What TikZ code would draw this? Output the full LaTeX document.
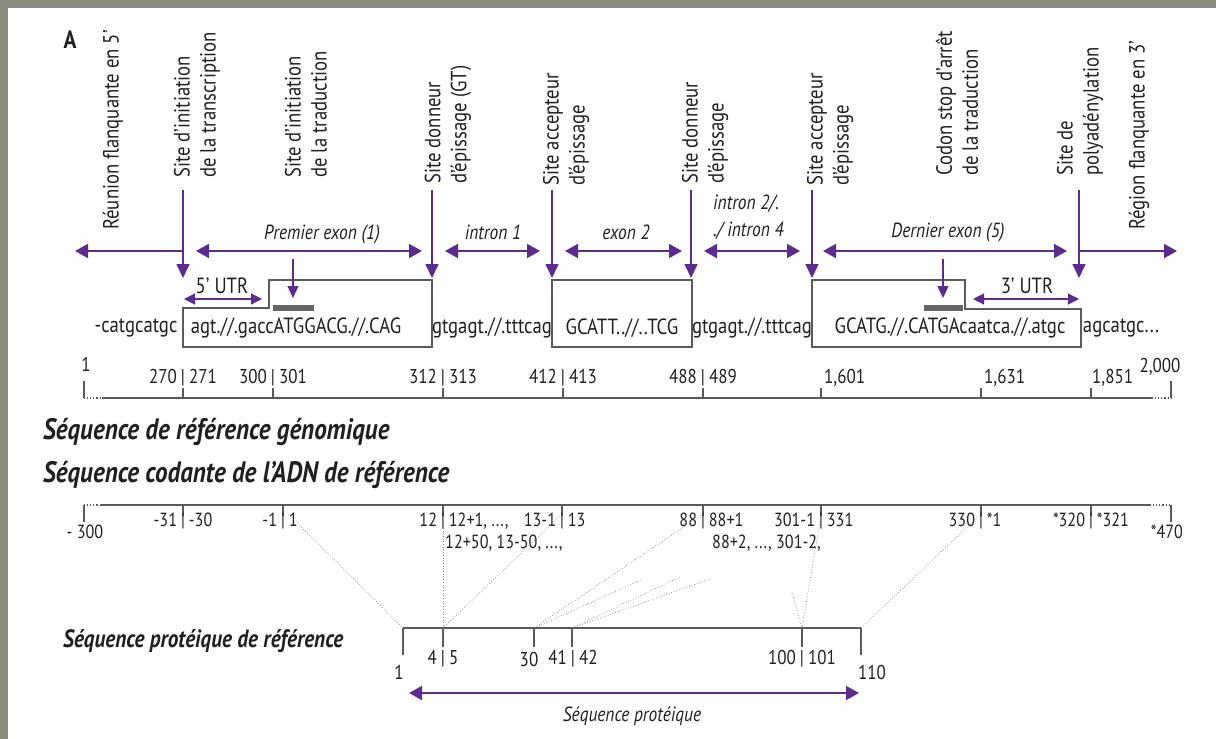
\documentclass[tikz,border=0pt]{standalone}
\usepackage{fontspec}
\setmainfont{PT Sans}[FakeStretch=0.85]
\usetikzlibrary{arrows.meta}
\definecolor{cFrame}{HTML}{8B8B7D}
\definecolor{cPurple}{HTML}{5B2C8E}
\definecolor{cBox}{HTML}{5A5A5A}
\definecolor{cBar}{HTML}{666666}
\definecolor{cInk}{HTML}{231F20}
\definecolor{cDot}{HTML}{808080}
\newcommand\pairtxt[2]{\makebox[0pt][r]{#1\hspace{4pt}}|\makebox[0pt][l]{\hspace{4pt}#2}}

\begin{document}
\begin{tikzpicture}[
  x=1pt, y=-1pt,
  every node/.style={font=\fontsize{22}{26}\selectfont, text=cInk, inner sep=0pt},
  vlabel/.style={rotate=90, anchor=west, align=left},
  spanlab/.style={font=\fontsize{20.5}{27}\selectfont\itshape},
  seq/.style={font=\fontsize{22}{26}\selectfont},
  num/.style={font=\fontsize{20}{22}\selectfont},
  cnum/.style={font=\fontsize{19}{22}\selectfont},
  title/.style={anchor=west, font=\fontsize{29.5}{34}\selectfont\bfseries\itshape},
  subtitle/.style={anchor=west, font=\fontsize{25}{30}\selectfont\bfseries\itshape},
  site/.style={cPurple, line width=1.6pt, -{Triangle[width=13pt,length=14pt]}},
  span/.style={cPurple, line width=2pt, {Triangle[width=14pt,length=13pt]}-{Triangle[width=14pt,length=13pt]}},
  flank/.style={cPurple, line width=2pt, -{Triangle[width=14pt,length=13pt]}},
  utr/.style={cPurple, line width=1.2pt, {Triangle[width=11pt,length=11pt]}-{Triangle[width=11pt,length=11pt]}},
  pointer/.style={cPurple, line width=1.2pt, -{Triangle[width=11pt,length=12pt]}},
  exonbox/.style={draw=cBox, line width=1.2pt},
  ruler/.style={draw=cBox, line width=1.1pt},
  guide/.style={draw=cDot, line width=0.7pt, dotted},
]
\useasboundingbox (0,0) rectangle (1216,739);
\fill[cFrame] (0,0) rectangle (1216,739);
\fill[white] (8,8) rectangle (1216,739);

\node[font=\fontsize{25}{28}\selectfont\bfseries] (panelA) at (70,40) {A};

% ─── sites (rotated labels) ───
\node[vlabel] (flank5lab) at (113,230) {Réunion flanquante en 5’};
\node[vlabel] (tsslab) at (197,178) {Site d’initiation\\de la transcription};
\node[vlabel] (atglab) at (306,178) {Site d’initiation\\de la traduction};
\node[vlabel] (donAlab) at (448,184) {Site donneur\\d'épissage (GT)};
\node[vlabel] (accAlab) at (566,186) {Site accepteur\\d'épissage};
\node[vlabel] (donBlab) at (705,184) {Site donneur\\d'épissage};
\node[vlabel] (accBlab) at (830,186) {Site accepteur\\d'épissage};
\node[vlabel] (stoplab) at (957,176) {Codon stop d’arrêt\\de la traduction};
\node[vlabel] (polyAlab) at (1080,176) {Site de\\polyadénylation};
\node[vlabel] (flank3lab) at (1139,230) {Région flanquante en 3’};

\foreach \n/\x in {tss/183, donA/432, accA/552, donB/691, accB/812, polyA/1079} {
  \coordinate (\n top) at (\x,190);
  \coordinate (\n tip) at (\x,278);
  \draw[site] (\n top) -- (\n tip);
}

% ─── regions ───
\node[spanlab] (exon1lab) at (322,234) {Premier exon (1)};
\node[spanlab] (intron1lab) at (493,232) {intron 1};
\node[spanlab] (exon2lab) at (626,232) {exon 2};
\node[spanlab, anchor=west, align=left] (intron24lab) at (713,217) {intron 2/.\\./ intron 4};
\node[spanlab] (exon5lab) at (948,232) {Dernier exon (5)};

\foreach \n/\a/\b in {exon1/196/422, intron1/445/540, exon2/565/682, intron2/704/800, exon5/823/1067} {
  \coordinate (\n L) at (\a,251);
  \coordinate (\n R) at (\b,251);
  \draw[span] (\n L) -- (\n R);
}
\coordinate (flank5start) at (183,251);
\coordinate (flank5end) at (75,251);
\coordinate (flank3start) at (1079,251);
\coordinate (flank3end) at (1177,251);
\draw[flank] (flank5start) -- (flank5end);
\draw[flank] (flank3start) -- (flank3end);

% ─── exons ───
\draw[exonbox] (183,308) -- (269,308) -- (269,280) -- (432,280) -- (432,347) -- (183,347) -- cycle;
\draw[exonbox] (552,280) rectangle (692,347);
\draw[exonbox] (812,280) -- (965,280) -- (965,309) -- (1081,309) -- (1081,347) -- (812,347) -- cycle;
\fill[cBar] (273,305) rectangle (314,311);
\fill[cBar] (924,305) rectangle (963,311);

\coordinate (atgtop) at (293,259);
\coordinate (atgtip) at (293,298);
\coordinate (stoptop) at (943,259);
\coordinate (stoptip) at (943,298);
\draw[pointer] (atgtop) -- (atgtip);
\draw[pointer] (stoptop) -- (stoptip);

\coordinate (utr5L) at (184,299);
\coordinate (utr5R) at (262,299);
\coordinate (utr3L) at (973,299);
\coordinate (utr3R) at (1079,299);
\draw[utr] (utr5L) -- (utr5R);
\draw[utr] (utr3L) -- (utr3R);
\node (utr5lab) at (222,286) {5’ UTR};
\node (utr3lab) at (1027,286) {3’ UTR};

\node[seq] (flank5seq) at (136,328) {-catgcatgc};
\node[seq] (exon1seq) at (296,328) {agt.//.gaccATGGACG.//.CAG};
\node[seq] (intron1seq) at (492,328) {gtgagt.//.tttcag};
\node[seq] (exon2seq) at (622,328) {GCATT..//..TCG};
\node[seq] (intron2seq) at (752,328) {gtgagt.//.tttcag};
\node[seq] (exon5seq) at (950,328) {GCATG.//.CATGAcaatca.//.atgc};
\node[seq] (flank3seq) at (1121,328) {agcatgc...};

% ─── genomic scale ───
\coordinate (gL) at (84,398);
\coordinate (gLs) at (102,398);
\coordinate (gRs) at (1152,398);
\coordinate (gR) at (1171,398);
\draw[ruler] (gLs) -- (gRs);
\draw[ruler, dotted] (gL) -- (gLs) (gRs) -- (gR);
\draw[ruler] (84,381) -- (gL) (1171,381) -- (gR);
\foreach \x in {183,273,443,563,703,821,981,1091}
  \draw[ruler] (\x,388) -- (\x,398);

\node[num] (g1) at (86,364) {1};
\node[num] (g270) at (183,378) {\pairtxt{270}{271}};
\node[num] (g300) at (273,378) {\pairtxt{300}{301}};
\node[num] (g312) at (443,378) {\pairtxt{312}{313}};
\node[num] (g412) at (563,378) {\pairtxt{412}{413}};
\node[num] (g488) at (703,378) {\pairtxt{488}{489}};
\node[num, anchor=west] (g1601) at (824,378) {1,601};
\node[num, anchor=west] (g1631) at (984,378) {1,631};
\node[num, anchor=west] (g1851) at (1092,378) {1,851};
\node[num] (g2000) at (1160,367) {2,000};

\node[title] (genomtitle) at (43,432) {Séquence de référence génomique};
\node[title] (codtitle) at (43,475) {Séquence codante de l'ADN de référence};

% ─── coding scale ───
\coordinate (cL) at (84,505);
\coordinate (cLs) at (100,505);
\coordinate (cRs) at (1150,505);
\coordinate (cR) at (1171,505);
\draw[ruler] (cLs) -- (cRs);
\draw[ruler, dotted] (cL) -- (cLs) (cRs) -- (cR);
\draw[ruler] (cL) -- (84,522) (cR) -- (1171,522);
\foreach \x in {183,283,443,562,703,821,981,1091}
  \draw[ruler] (\x,505) -- (\x,516);

\node[cnum] (cm300) at (85,532) {- 300};
\node[cnum] (cm31) at (183,521) {\pairtxt{-31}{-30}};
\node[cnum] (cm1) at (283,521) {\pairtxt{-1}{1}};
\node[cnum] (c12) at (443,521) {\pairtxt{12}{12+1, ...,}};
\node[cnum] (c13) at (562,521) {\pairtxt{13-1}{13}};
\node[cnum] (c88) at (703,521) {\pairtxt{88}{88+1}};
\node[cnum] (c301) at (821,521) {\pairtxt{301-1}{331}};
\node[cnum] (c330) at (981,521) {\pairtxt{330}{*1}};
\node[cnum] (c320) at (1091,521) {\pairtxt{*320}{*321}};
\node[cnum] (c470) at (1167,532) {*470};
\node[cnum, anchor=west] (c12b) at (445,543) {12+50, 13-50, ...,};
\node[cnum, anchor=west] (c88b) at (712,543) {88+2, ..., 301-2,};

% ─── protein scale ───
\node[subtitle] (prottitle) at (63,641) {Séquence protéique de référence};
\coordinate (p1) at (403,628);
\coordinate (p5) at (443,628);
\coordinate (p30) at (534,628);
\coordinate (p42) at (572,628);
\coordinate (p101) at (802,628);
\coordinate (p110) at (861,628);
\draw[ruler] (p1) -- (p110);
\draw[ruler] (p1) -- (403,655) (p110) -- (861,655);
\foreach \x in {443,534,572,802}
  \draw[ruler] (\x,628) -- (\x,647);

\node[num] (pr1) at (399,672) {1};
\node[num] (pr5) at (443,659) {\pairtxt{4}{5}};
\node[num] (pr30) at (529,659) {30};
\node[num] (pr42) at (573,659) {\pairtxt{41}{42}};
\node[num] (pr101) at (802,659) {\pairtxt{100}{101}};
\node[num] (pr110) at (872,672) {110};

% ─── correspondences ───
\coordinate (cd1) at (288,514);
\coordinate (cd12) at (443,517);
\coordinate (cd13) at (562,514);
\coordinate (cd88) at (703,514);
\coordinate (cd331) at (821,516);
\coordinate (cd330) at (981,514);
\coordinate (stubA) at (641,580);
\coordinate (stubB) at (680,577);
\coordinate (stubC) at (710,579);
\coordinate (stubD) at (792,592);
\draw[guide] (cd1) -- (p1);
\draw[guide] (cd12) -- (p5);
\draw[guide] (cd13) -- (p5);
\draw[guide] (cd88) -- (p30);
\draw[guide] (p30) -- (stubA);
\draw[guide] (p42) -- (stubB);
\draw[guide] (p42) -- (stubC);
\draw[guide] (cd331) -- (p101);
\draw[guide] (stubD) -- (p101);
\draw[guide] (cd330) -- (p110);

\coordinate (protL) at (409,693);
\coordinate (protR) at (859,693);
\draw[span] (protL) -- (protR);
\node[spanlab] (protlab) at (632,716) {Séquence protéique};

\end{tikzpicture}
\end{document}
